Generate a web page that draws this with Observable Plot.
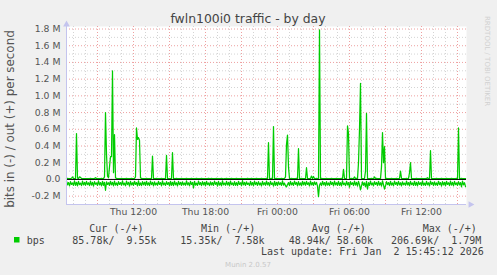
<!DOCTYPE html>
<html><head><meta charset="utf-8">
<script src="https://cdn.jsdelivr.net/npm/d3@7"></script>
<script src="https://cdn.jsdelivr.net/npm/@observablehq/plot@0.6"></script>
<style>
html,body{margin:0;padding:0;background:#f0f0f0;}
#c{position:relative;width:497px;height:275px;overflow:hidden;background:#f0f0f0;}
#c svg{position:absolute;left:0;top:0;}
</style></head><body><div id="c"></div>
<script>
// ---- data ----
const title = "fwln100i0 traffic - by day";
const yAxisLabel = "bits in (-) / out (+) per second";
const startTime = Date.UTC(2026,0,1,6,25);   // Thu 06:25
const endTime = Date.UTC(2026,0,2,15,45);    // Fri 15:45
const stepMinutes = 5;
// out (+), thousands of bits/s, one value per 5 minutes
const outK = [
10,12,9,11,10,14,30,12,10,11,548,15,11,30,25,12,10,9,11,10,
10,9,11,10,12,10,9,11,10,20,12,10,9,11,10,12,10,9,30,800,
300,40,20,150,272,272,1300,80,536,20,12,10,9,11,10,12,10,9,11,10,
12,10,9,11,10,12,10,9,11,30,616,480,500,470,20,12,10,9,11,10,
12,10,9,11,10,12,280,9,11,10,12,10,9,11,10,12,10,9,11,10,
288,10,9,11,10,12,320,9,11,10,12,10,9,11,10,12,10,9,11,10,
12,10,9,11,10,12,10,9,11,10,12,10,9,11,10,12,10,9,11,10,
11,10,12,9,10,12,11,9,10,11,12,10,9,11,10,12,10,7.58,11,10,
12,10,9,11,10,12,10,9,11,10,12,11,9,10,10,12,10,9,11,10,
10,12,9,11,10,12,10,9,11,10,12,10,9,11,10,12,10,9,11,10,
12,10,440,11,10,12,10,632,11,10,12,10,9,11,10,12,10,9,11,30,
420,530,150,11,10,12,10,9,11,10,12,10,368,11,10,12,10,9,11,10,
140,10,9,11,10,40,10,35,11,10,12,10,9,1790,10,12,10,9,11,10,
12,10,9,11,10,12,10,9,11,10,12,10,9,11,10,12,10,120,11,10,
12,640,548,11,10,12,10,9,30,10,12,10,200,600,1148,12,10,9,11,100,
790,10,9,11,10,12,10,9,30,10,12,10,9,11,10,150,560,200,392,10,
12,10,9,11,10,12,10,9,11,10,12,10,9,11,100,12,10,9,11,10,
12,10,9,80,200,12,10,9,11,10,12,10,9,11,10,12,10,9,11,10,
12,20,9,11,344,12,10,9,11,10,12,10,9,11,10,12,10,9,11,10,
12,10,9,11,10,12,10,9,11,10,12,10,616,11,10,12,10,9,11,9.55
];
// in (-), thousands of bits/s (magnitude), one value per 5 minutes
const inK = [
22,64,38,76,26,60,42,72,18,70,34,78,24,62,44,74,20,66,36,70,
24,62,40,74,20,68,36,80,26,58,42,72,18,66,38,76,22,70,34,130,
28,60,40,72,22,64,36,78,20,68,42,74,26,60,38,70,18,66,44,76,
20,62,36,80,24,66,40,72,22,60,38,76,18,70,42,74,26,64,34,72,
22,68,40,74,20,62,36,78,28,66,44,70,24,60,38,76,18,64,42,72,
26,60,38,76,22,70,34,74,20,64,40,78,24,62,36,72,28,66,42,70,
18,64,40,76,24,60,36,100,22,68,44,72,20,62,38,74,26,66,34,78,
22,62,42,74,28,66,38,72,20,60,36,80,24,68,40,76,18,64,44,70,
24,66,36,78,20,62,42,72,26,70,38,74,22,60,40,76,15.35,64,36,72,
28,60,44,74,22,68,38,76,20,62,36,72,26,66,42,78,24,64,40,70,
20,64,38,76,24,60,42,80,22,70,36,74,28,62,40,72,18,68,44,76,
90,62,38,74,24,66,40,72,20,60,36,78,26,68,42,76,22,64,34,70,
24,60,40,78,20,66,38,72,28,62,36,80,207,70,42,74,22,64,38,76,
26,68,42,74,22,60,36,76,20,64,40,72,24,70,38,78,18,62,44,74,
22,66,38,92,26,60,40,74,20,68,36,80,24,62,125,76,28,70,40,90,
24,115,38,72,20,66,42,78,26,60,36,74,22,68,40,80,18,64,115,76,
26,62,38,74,22,68,42,76,20,60,36,72,24,66,40,78,28,64,44,70,
20,66,38,76,24,62,42,72,22,70,36,78,26,60,40,74,18,68,44,72,
24,64,40,78,20,60,36,74,28,68,42,72,22,62,38,80,26,66,34,76,
22,60,40,74,20,68,36,78,24,62,42,72,26,66,38,90,20,64,40,85.78
];
const yTickValues = [-200000,0,200000,400000,600000,800000,1000000,1200000,1400000,1600000,1800000];
const yTickLabels = ["-0.2 M","0.0","0.2 M","0.4 M","0.6 M","0.8 M","1.0 M","1.2 M","1.4 M","1.6 M","1.8 M"];
const xLabelTimes = [Date.UTC(2026,0,1,12),Date.UTC(2026,0,1,18),Date.UTC(2026,0,2,0),Date.UTC(2026,0,2,6),Date.UTC(2026,0,2,12)];
const xLabels = ["Thu 12:00","Thu 18:00","Fri 00:00","Fri 06:00","Fri 12:00"];
const seriesName = "bps";
const legendHeaders = ["Cur (-/+)","Min (-/+)","Avg (-/+)","Max (-/+)"];
const legendValues = ["85.78k/  9.55k","15.35k/  7.58k","48.94k/ 58.60k","206.69k/  1.79M"];
const lastUpdate = "Last update: Fri Jan  2 15:45:12 2026";
const footer = "Munin 2.0.57";
const watermark = "RRDTOOL / TOBI OETIKER";

// ---- build ----
const step = stepMinutes*60000;
const outRows = outK.map((v,i)=>({t:new Date(startTime+i*step), v:v*1000}));
const inRows = inK.map((v,i)=>({t:new Date(startTime+i*step), v:-v*1000}));
const yDomain = [-300000, 1830000];
const minorX = d3.utcHour.range(new Date(startTime), new Date(endTime));
const majorX = d3.utcHour.every(3).range(new Date(startTime), new Date(endTime));
const minorY = d3.range(-100000, 1800000, 200000);
const yLab = new Map(yTickValues.map((v,i)=>[v,yTickLabels[i]]));
const xLab = new Map(xLabelTimes.map((v,i)=>[v,xLabels[i]]));
const axisCol = "#c4c4ee";

const chart = Plot.plot({
  width: 497, height: 215,
  marginLeft: 66, marginRight: 31, marginTop: 26, marginBottom: 11,
  style: {background:"transparent", fontFamily:"DejaVu Sans", fontSize:"9.3px", color:"#555", overflow:"visible"},
  x: {type:"utc", domain:[new Date(startTime), new Date(endTime)], axis:null},
  y: {domain:yDomain, axis:null},
  marks: [
    Plot.frame({fill:"white", stroke:"none"}),
    Plot.ruleX(minorX, {stroke:"#d4d4d4", strokeDasharray:"1,2"}),
    Plot.ruleY(minorY, {stroke:"#d4d4d4", strokeDasharray:"1,2"}),
    Plot.ruleX(majorX, {stroke:"#eea0a0", strokeDasharray:"1,2"}),
    Plot.ruleY(yTickValues, {stroke:"#eea0a0", strokeDasharray:"1,2"}),
    Plot.line(outRows, {x:"t", y:"v", stroke:"#00cc00", strokeWidth:1.25}),
    Plot.line(inRows, {x:"t", y:"v", stroke:"#00cc00", strokeWidth:1.25}),
    Plot.ruleY([0], {stroke:"#000", strokeWidth:1}),
    Plot.ruleX([new Date(startTime)], {stroke:axisCol, y1:yDomain[0], y2:yDomain[1]}),
    Plot.ruleY([yDomain[0]], {stroke:axisCol}),
    Plot.dot([[new Date(startTime), yDomain[1]]], {x:d=>d[0], y:d=>d[1], symbol:"triangle", r:2.5, fill:axisCol, stroke:"none", dy:-2}),
    Plot.dot([[new Date(endTime), yDomain[0]]], {x:d=>d[0], y:d=>d[1], symbol:"triangle", rotate:90, r:2.5, fill:axisCol, stroke:"none", dx:4}),
    Plot.axisY(yTickValues, {tickFormat:d=>yLab.get(d), tickSize:0, tickPadding:6, label:null, fill:"#555"}),
    Plot.axisX(xLabelTimes.map(t=>new Date(t)), {tickFormat:d=>xLab.get(+d), tickSize:0, tickPadding:4, label:null, fill:"#555"})
  ]
});
const c = document.getElementById("c");
c.appendChild(chart);

// overlay texts
const ov = d3.select(c).append("svg").attr("width",497).attr("height",275).style("pointer-events","none");
ov.append("text").attr("x",248).attr("y",23).attr("text-anchor","middle")
  .attr("font-family","DejaVu Sans").attr("font-size",12.4).attr("fill","#444").text(title);
ov.append("text").attr("transform","translate(14,119) rotate(-90)").attr("text-anchor","middle")
  .attr("font-family","DejaVu Sans").attr("font-size",11.9).attr("fill","#555").text(yAxisLabel);
ov.append("text").attr("transform","translate(485,16) rotate(90)").attr("text-anchor","start")
  .attr("font-family","DejaVu Sans").attr("font-size",7).attr("fill","#d0d0d0").text(watermark);
const mono = {ff:"DejaVu Sans Mono", fs:10};
const hdrX = [89.3, 201, 311.7, 422.7];
const valX = [72.3, 180.3, 288.7, 391];
legendHeaders.forEach((h,i)=>ov.append("text").attr("x",hdrX[i]).attr("y",232).style("white-space","pre")
  .attr("font-family",mono.ff).attr("font-size",mono.fs).attr("fill","#444").text(h));
legendValues.forEach((h,i)=>ov.append("text").attr("x",valX[i]).attr("y",243.5).style("white-space","pre")
  .attr("font-family",mono.ff).attr("font-size",mono.fs).attr("fill","#444").text(h));
ov.append("rect").attr("x",14).attr("y",237).attr("width",5.5).attr("height",5.5).attr("fill","#00cc00");
ov.append("text").attr("x",26.7).attr("y",243.5).attr("font-family",mono.ff).attr("font-size",mono.fs).attr("fill","#444").text(seriesName);
ov.append("text").attr("x",261).attr("y",255).style("white-space","pre").attr("font-family",mono.ff).attr("font-size",mono.fs).attr("fill","#444").text(lastUpdate);
ov.append("text").attr("x",248).attr("y",267).attr("text-anchor","middle").attr("font-family","DejaVu Sans").attr("font-size",7).attr("fill","#c8c8c8").text(footer);
</script></body></html>
